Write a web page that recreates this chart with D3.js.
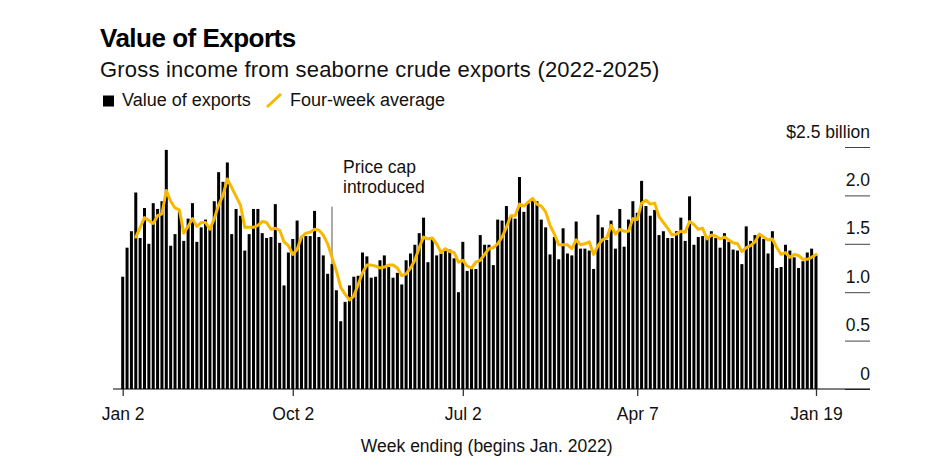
<!DOCTYPE html>
<html>
<head>
<meta charset="utf-8">
<script src="https://cdn.jsdelivr.net/npm/d3@7"></script>
<style>
  html, body { margin: 0; padding: 0; background: #fff; }
  svg { display: block; }
  text { font-family: "Liberation Sans", Arial, Helvetica, sans-serif; fill: #111; }
</style>
</head>
<body>
<svg id="chart" width="938" height="465"></svg>
<script>
// ---------------- DATA ----------------
const firstWeek = "2022-01-02";           // week ending of first bar; bars are weekly
const exportValues = [ // $ billion, weekly
  1.16,1.46,1.63,2.03,1.56,1.87,1.50,1.92,1.86,1.94,
  2.47,1.48,1.60,1.83,1.53,1.76,1.92,1.52,1.67,1.75,
  1.67,1.94,2.24,2.14,2.34,1.60,1.86,1.79,1.43,1.60,
  1.86,1.86,1.61,1.56,1.57,1.91,1.51,1.07,1.41,1.55,
  1.74,1.58,1.58,1.58,1.84,1.57,1.38,1.19,1.29,1.02,
  0.70,0.90,1.07,1.16,1.17,1.41,1.37,1.15,1.16,1.33,
  1.38,1.26,1.15,1.20,1.08,1.33,1.40,1.49,1.61,1.77,
  1.31,1.55,1.38,1.40,1.45,1.44,1.35,1.00,1.52,1.22,
  1.25,1.24,1.59,1.49,1.49,1.28,1.75,1.74,1.89,1.78,
  1.76,2.19,1.83,1.92,1.95,1.94,1.75,1.67,1.39,1.57,
  1.34,1.66,1.40,1.38,1.73,1.45,1.45,1.43,1.24,1.80,
  1.67,1.54,1.74,1.45,1.86,1.47,1.75,1.94,1.82,2.15,
  1.89,1.79,1.85,1.59,1.63,1.56,1.56,1.63,1.77,1.53,
  1.99,1.49,1.57,1.58,1.56,1.63,1.56,1.46,1.61,1.52,
  1.44,1.43,1.29,1.68,1.53,1.59,1.60,1.55,1.40,1.63,
  1.25,1.26,1.49,1.43,1.36,1.25,1.32,1.41,1.45,1.38
];
const fourWeekAverage = [ // $ billion, starts at 4th week
  null,null,null,1.57,1.67,1.77,1.74,1.71,1.79,1.81,
  2.05,1.94,1.87,1.85,1.61,1.68,1.76,1.68,1.72,1.72,
  1.65,1.76,1.90,2.00,2.17,2.08,1.99,1.90,1.67,1.67,
  1.67,1.69,1.73,1.72,1.65,1.66,1.64,1.52,1.48,1.39,
  1.44,1.57,1.61,1.62,1.65,1.64,1.59,1.50,1.36,1.22,
  1.05,0.98,0.92,0.96,1.08,1.20,1.28,1.28,1.27,1.25,
  1.26,1.28,1.28,1.25,1.17,1.19,1.25,1.33,1.46,1.57,
  1.55,1.56,1.50,1.41,1.45,1.42,1.41,1.31,1.33,1.27,
  1.25,1.31,1.33,1.39,1.45,1.46,1.50,1.57,1.67,1.79,
  1.79,1.91,1.89,1.93,1.97,1.91,1.89,1.83,1.69,1.60,
  1.49,1.49,1.49,1.45,1.54,1.49,1.50,1.52,1.39,1.48,
  1.54,1.56,1.69,1.60,1.65,1.63,1.63,1.76,1.75,1.92,
  1.95,1.91,1.92,1.78,1.72,1.66,1.59,1.60,1.63,1.62,
  1.73,1.70,1.65,1.66,1.55,1.59,1.58,1.55,1.57,1.54,
  1.51,1.50,1.42,1.46,1.48,1.52,1.60,1.57,1.54,1.55,
  1.46,1.39,1.41,1.36,1.39,1.38,1.34,1.34,1.36,1.39
];
const yTickValues = [0, 0.5, 1, 1.5, 2, 2.5];
const yTickLabels = ["0", "0.5", "1.0", "1.5", "2.0", "$2.5 billion"];
const xTickDates  = ["2022-01-02", "2022-10-02", "2023-07-02", "2024-04-07", "2025-01-19"];
const xTickLabels = ["Jan 2", "Oct 2", "Jul 2", "Apr 7", "Jan 19"];
const annotationWeek = "2022-12-04";
const annotationLines = ["Price cap", "introduced"];
const legendLabels = ["Value of exports", "Four-week average"];

// ---------------- SETUP ----------------
const parse = d3.utcParse("%Y-%m-%d");
const start = parse(firstWeek);
const weeks = exportValues.map((v, i) => d3.utcDay.offset(start, 7 * i));

const svg = d3.select("#chart");
const YELLOW = "#F9B800";

const x = d3.scaleUtc()
  .domain([weeks[0], weeks[weeks.length - 1]])
  .range([122.7, 816]);
const y = d3.scaleLinear().domain([0, 2.5]).range([389, 147]);

// ---------------- TITLES ----------------
svg.append("text").attr("x", 100).attr("y", 47)
  .style("font-size", "26px").style("font-weight", "bold")
  .style("letter-spacing", "-0.5px").style("fill", "#000")
  .text("Value of Exports");
svg.append("text").attr("x", 100).attr("y", 77)
  .style("font-size", "22px").style("letter-spacing", "0.2px")
  .text("Gross income from seaborne crude exports (2022-2025)");

// ---------------- LEGEND ----------------
const lg = svg.append("g");
lg.append("rect").attr("x", 103).attr("y", 95.5).attr("width", 11).attr("height", 11).attr("fill", "#000");
lg.append("text").attr("x", 122).attr("y", 106).style("font-size", "18px").text(legendLabels[0]);
lg.append("line").attr("x1", 267).attr("y1", 107).attr("x2", 281).attr("y2", 94)
  .attr("stroke", YELLOW).attr("stroke-width", 3);
lg.append("text").attr("x", 290).attr("y", 106).style("font-size", "18px").text(legendLabels[1]);

// ---------------- Y AXIS (right, short ticks) ----------------
const yAxis = d3.axisLeft(y)
  .tickValues(yTickValues)
  .tickSize(25)
  .tickFormat((d, i) => yTickLabels[i]);
const gy = svg.append("g").attr("transform", "translate(870,0)").call(yAxis);
gy.select(".domain").remove();
gy.selectAll(".tick line").attr("stroke", "#444").attr("stroke-width", 1);
gy.selectAll(".tick text")
  .attr("x", 0).attr("dy", null).attr("y", -10)
  .attr("text-anchor", "end")
  .style("font-size", "17.5px").style("font-family", "'Liberation Sans', Arial, sans-serif")
  .attr("fill", "#111");

// ---------------- ANNOTATION ----------------
const ax = x(parse(annotationWeek));
svg.append("line").attr("x1", ax).attr("x2", ax).attr("y1", 206.7).attr("y2", y(0))
  .attr("stroke", "#555").attr("stroke-width", 1);
svg.append("text").attr("x", 343).attr("y", 173).style("font-size", "17.5px")
  .selectAll("tspan").data(annotationLines).join("tspan")
  .attr("x", 343).attr("dy", (d, i) => i === 0 ? 0 : 20).text(d => d);

// ---------------- BARS ----------------
const barW = 3;
svg.append("g").selectAll("rect")
  .data(exportValues)
  .join("rect")
  .attr("x", (d, i) => x(weeks[i]) - barW / 2)
  .attr("y", d => y(d))
  .attr("width", barW)
  .attr("height", d => y(0) - y(d))
  .attr("fill", "#000");

// ---------------- FOUR-WEEK AVERAGE LINE ----------------
const line = d3.line()
  .defined(d => d != null)
  .x((d, i) => x(weeks[i]))
  .y(d => y(d));
svg.append("path")
  .datum(fourWeekAverage)
  .attr("d", line)
  .attr("fill", "none")
  .attr("stroke", YELLOW)
  .attr("stroke-width", 3)
  .attr("stroke-linejoin", "round")
  .attr("stroke-linecap", "round");

// ---------------- X AXIS ----------------
svg.append("line").attr("x1", 113).attr("x2", 870).attr("y1", y(0)).attr("y2", y(0))
  .attr("stroke", "#000").attr("stroke-width", 1);
const xAxis = d3.axisBottom(x)
  .tickValues(xTickDates.map(parse))
  .tickFormat((d, i) => xTickLabels[i])
  .tickSize(7)
  .tickPadding(12);
const gx = svg.append("g").attr("transform", `translate(0,${y(0)})`).call(xAxis);
gx.select(".domain").remove();
gx.selectAll(".tick line").attr("stroke", "#333").attr("stroke-width", 1.3);
gx.selectAll(".tick text")
  .style("font-size", "17.5px").style("font-family", "'Liberation Sans', Arial, sans-serif")
  .attr("fill", "#111");

svg.append("text").attr("x", 486.7).attr("y", 452).attr("text-anchor", "middle")
  .style("font-size", "17.5px")
  .text("Week ending (begins Jan. 2022)");
</script>
</body>
</html>
